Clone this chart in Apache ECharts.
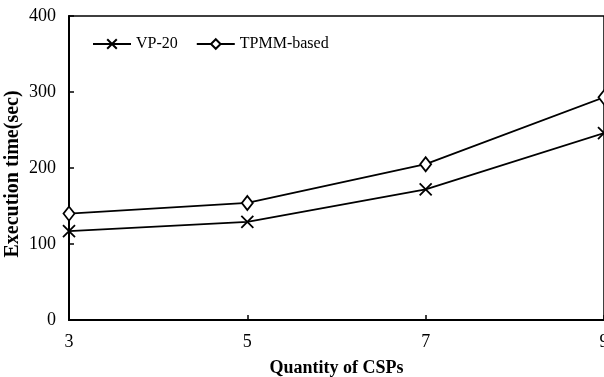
<!DOCTYPE html>
<html>
<head>
<meta charset="utf-8">
<script src="https://cdn.jsdelivr.net/npm/echarts@6/dist/echarts.min.js"></script>
<style>
html,body{margin:0;padding:0;background:#fff;}
#chart{width:604px;height:377px;}
</style>
</head>
<body>
<div id="chart"></div>
<script>
// quantity of CSPs on x axis
var csps = [3, 5, 7, 9];
var vp20 = [117, 129, 172, 246];
var tpmm = [140, 154, 205, 293];
var yTicks = [0, 100, 200, 300, 400];

var xMark = 'path://M0,0L10,10M10,0L0,10';
var font = '"Liberation Serif", "DejaVu Serif", serif';

function pairs(xs, ys){
	var out = [];
	for (var i = 0; i < xs.length; i++) out.push([xs[i], ys[i]]);
	return out;
}

var chart = echarts.init(document.getElementById('chart'));
var option = {
	animation: false,
	backgroundColor: '#fff',
	textStyle: {fontFamily: font, color: '#000'},
	grid: {left: 69, right: 0, top: 16, bottom: 57, containLabel: false, outerBoundsMode: 'none',
		show: true, borderColor: '#000', borderWidth: 1.5},
	legend: {
		left: 87,
		top: 31,
		itemWidth: 38,
		itemHeight: 12,
		itemGap: 18,
		textStyle: {fontFamily: font, fontSize: 16, color: '#000'},
		data: ['VP-20', 'TPMM-based']
	},
	xAxis: {
		type: 'value',
		min: csps[0],
		max: csps[csps.length - 1],
		interval: 2,
		name: 'Quantity of CSPs',
		nameLocation: 'middle',
		nameGap: 39,
		nameMoveOverlap: false,
		nameTextStyle: {fontFamily: font, fontSize: 18, fontWeight: 'bold', color: '#000'},
		axisLine: {lineStyle: {color: '#000', width: 2}},
		axisTick: {inside: true, length: 5, lineStyle: {color: '#000', width: 1.5}},
		axisLabel: {fontFamily: font, fontSize: 18, color: '#000', margin: 13},
		splitLine: {show: false}
	},
	yAxis: {
		type: 'value',
		min: yTicks[0],
		max: yTicks[yTicks.length - 1],
		interval: 100,
		name: 'Execution time(sec)',
		nameLocation: 'middle',
		nameGap: 46,
		nameMoveOverlap: false,
		nameTextStyle: {fontFamily: font, fontSize: 20, fontWeight: 'bold', color: '#000', padding: [0, 12, 0, 0]},
		axisLine: {show: true, lineStyle: {color: '#000', width: 2}},
		axisTick: {show: true, inside: true, length: 5, lineStyle: {color: '#000', width: 1.5}},
		axisLabel: {fontFamily: font, fontSize: 18, color: '#000', margin: 13},
		splitLine: {show: false}
	},
	series: [
		{
			name: 'VP-20',
			type: 'line',
			data: pairs(csps, vp20),
			symbol: xMark,
			symbolSize: 12,
			showAllSymbol: true,
			clip: false,
			lineStyle: {color: '#000', width: 1.8},
			itemStyle: {color: 'rgba(0,0,0,0)', borderColor: '#000', borderWidth: 1.8}
		},
		{
			name: 'TPMM-based',
			type: 'line',
			data: pairs(csps, tpmm),
			symbol: 'diamond',
			symbolSize: [11, 14],
			clip: false,
			lineStyle: {color: '#000', width: 1.8},
			itemStyle: {color: '#fff', borderColor: '#000', borderWidth: 1.8}
		}
	]
};
chart.setOption(option);
</script>
</body>
</html>
